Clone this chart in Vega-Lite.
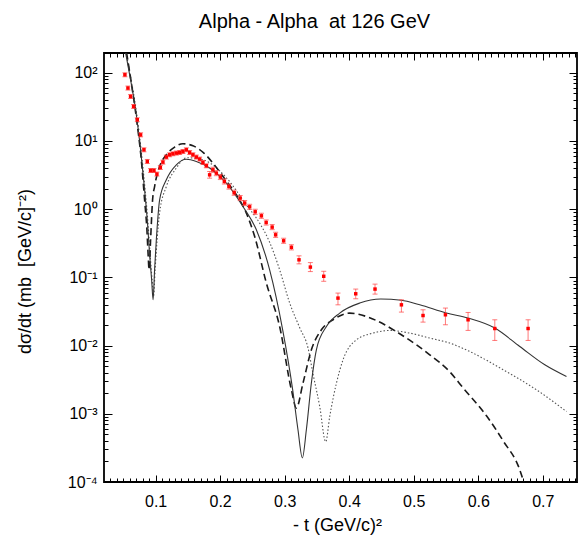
{
"$schema": "https://vega.github.io/schema/vega-lite/v6.json",
"width": 473, "height": 429,
"autosize": {"type": "none"},
"padding": {"left": 104, "top": 53, "right": 4, "bottom": 67},
"background": "white",
"title": {"text": "Alpha - Alpha\u00a0 at 126 GeV", "fontSize": 20, "font": "Liberation Sans", "fontWeight": "normal", "color": "black", "anchor": "middle", "frame": "group", "dx": -26, "offset": 5, "baseline": "alphabetic"},
"config": {
  "view": {"stroke": "black", "strokeWidth": 1.8},
  "axis": {"grid": false, "domain": false, "tickColor": "black", "tickWidth": 1, "labelColor": "black", "titleColor": "black", "labelFont": "Liberation Sans", "titleFont": "Liberation Sans", "titleFontWeight": "normal", "labelOverlap": false, "labelFlush": false}
},
"resolve": {"axis": {"x": "independent", "y": "independent"}},
"datasets": {
  "pts": [
    {"t": 0.0524, "v": 93.5, "lo": 87.4, "hi": 100},
    {"t": 0.0571, "v": 59.7, "lo": 55.8, "hi": 63.9},
    {"t": 0.0612, "v": 44.9, "lo": 42.0, "hi": 48.0},
    {"t": 0.0659, "v": 32.1, "lo": 30.0, "hi": 34.3},
    {"t": 0.0716, "v": 20.5, "lo": 19.2, "hi": 21.9},
    {"t": 0.0767, "v": 12.3, "lo": 11.5, "hi": 13.2},
    {"t": 0.0819, "v": 7.43, "lo": 6.94, "hi": 7.95},
    {"t": 0.0871, "v": 5.01, "lo": 4.68, "hi": 5.36},
    {"t": 0.0922, "v": 3.69, "lo": 3.45, "hi": 3.95},
    {"t": 0.0974, "v": 3.69, "lo": 3.45, "hi": 3.95},
    {"t": 0.1020, "v": 3.27, "lo": 3.06, "hi": 3.50},
    {"t": 0.1073, "v": 4.09, "lo": 3.82, "hi": 4.38},
    {"t": 0.1113, "v": 4.90, "lo": 4.58, "hi": 5.24},
    {"t": 0.1166, "v": 5.81, "lo": 5.43, "hi": 6.22},
    {"t": 0.1217, "v": 6.28, "lo": 5.87, "hi": 6.72},
    {"t": 0.1268, "v": 6.49, "lo": 6.07, "hi": 6.94},
    {"t": 0.1321, "v": 6.65, "lo": 6.21, "hi": 7.12},
    {"t": 0.1372, "v": 6.78, "lo": 6.34, "hi": 7.25},
    {"t": 0.1423, "v": 7.01, "lo": 6.55, "hi": 7.50},
    {"t": 0.1476, "v": 7.43, "lo": 6.94, "hi": 7.95},
    {"t": 0.1527, "v": 6.78, "lo": 6.34, "hi": 7.25},
    {"t": 0.1578, "v": 6.28, "lo": 5.87, "hi": 6.72},
    {"t": 0.1631, "v": 5.81, "lo": 5.43, "hi": 6.22},
    {"t": 0.1682, "v": 5.43, "lo": 5.07, "hi": 5.81},
    {"t": 0.1733, "v": 4.84, "lo": 4.52, "hi": 5.18},
    {"t": 0.1786, "v": 4.33, "lo": 4.05, "hi": 4.63},
    {"t": 0.1837, "v": 3.19, "lo": 2.85, "hi": 3.57},
    {"t": 0.1888, "v": 3.78, "lo": 3.47, "hi": 4.12},
    {"t": 0.1941, "v": 3.38, "lo": 3.10, "hi": 3.68},
    {"t": 0.2003, "v": 2.96, "lo": 2.72, "hi": 3.23},
    {"t": 0.2065, "v": 2.55, "lo": 2.34, "hi": 2.78},
    {"t": 0.2136, "v": 2.15, "lo": 1.97, "hi": 2.34},
    {"t": 0.2217, "v": 1.74, "lo": 1.60, "hi": 1.90},
    {"t": 0.2310, "v": 1.455, "lo": 1.335, "hi": 1.586},
    {"t": 0.2380, "v": 1.23, "lo": 1.13, "hi": 1.34},
    {"t": 0.2457, "v": 1.084, "lo": 0.994, "hi": 1.18},
    {"t": 0.2543, "v": 0.916, "lo": 0.840, "hi": 0.998},
    {"t": 0.2639, "v": 0.800, "lo": 0.734, "hi": 0.872},
    {"t": 0.2713, "v": 0.638, "lo": 0.585, "hi": 0.695},
    {"t": 0.2806, "v": 0.546, "lo": 0.501, "hi": 0.595},
    {"t": 0.2860, "v": 0.421, "lo": 0.386, "hi": 0.459},
    {"t": 0.2984, "v": 0.344, "lo": 0.316, "hi": 0.375},
    {"t": 0.3104, "v": 0.276, "lo": 0.253, "hi": 0.301},
    {"t": 0.3222, "v": 0.181, "lo": 0.158, "hi": 0.207},
    {"t": 0.3398, "v": 0.1416, "lo": 0.1217, "hi": 0.1648},
    {"t": 0.3605, "v": 0.1038, "lo": 0.0877, "hi": 0.1229},
    {"t": 0.3826, "v": 0.0497, "lo": 0.0396, "hi": 0.0589},
    {"t": 0.4101, "v": 0.0575, "lo": 0.0486, "hi": 0.0674},
    {"t": 0.4400, "v": 0.0674, "lo": 0.0569, "hi": 0.0797},
    {"t": 0.4809, "v": 0.0396, "lo": 0.0310, "hi": 0.0469},
    {"t": 0.5144, "v": 0.0276, "lo": 0.0221, "hi": 0.0335},
    {"t": 0.5491, "v": 0.0283, "lo": 0.0202, "hi": 0.0355},
    {"t": 0.5842, "v": 0.0239, "lo": 0.0167, "hi": 0.0306},
    {"t": 0.6256, "v": 0.0178, "lo": 0.0119, "hi": 0.0239},
    {"t": 0.6772, "v": 0.0178, "lo": 0.0119, "hi": 0.0239}
  ],
  "curves": [
    {"m": "solid", "t": 0.0535, "v": 196},
    {"m": "solid", "t": 0.0612, "v": 78.9},
    {"m": "solid", "t": 0.0690, "v": 28.7},
    {"m": "solid", "t": 0.0767, "v": 7.43},
    {"m": "solid", "t": 0.0829, "v": 1.925},
    {"m": "solid", "t": 0.0876, "v": 0.590},
    {"m": "solid", "t": 0.0907, "v": 0.2145},
    {"m": "solid", "t": 0.0938, "v": 0.0922},
    {"m": "solid", "t": 0.0961, "v": 0.0469},
    {"m": "solid", "t": 0.0984, "v": 0.1292},
    {"m": "solid", "t": 0.1011, "v": 0.356},
    {"m": "solid", "t": 0.1062, "v": 1.373},
    {"m": "solid", "t": 0.1166, "v": 2.70},
    {"m": "solid", "t": 0.1321, "v": 4.48},
    {"m": "solid", "t": 0.1476, "v": 5.39},
    {"m": "solid", "t": 0.1631, "v": 5.01},
    {"m": "solid", "t": 0.1837, "v": 4.01},
    {"m": "solid", "t": 0.2096, "v": 2.41},
    {"m": "solid", "t": 0.2353, "v": 1.095},
    {"m": "solid", "t": 0.2561, "v": 0.499},
    {"m": "solid", "t": 0.2767, "v": 0.1292},
    {"m": "solid", "t": 0.2969, "v": 0.01705},
    {"m": "solid", "t": 0.3124, "v": 0.002248},
    {"m": "solid", "t": 0.3206, "v": 0.000583},
    {"m": "solid", "t": 0.3274, "v": 0.000226},
    {"m": "solid", "t": 0.3336, "v": 0.000583},
    {"m": "solid", "t": 0.3414, "v": 0.002847},
    {"m": "solid", "t": 0.3491, "v": 0.00868},
    {"m": "solid", "t": 0.3647, "v": 0.01906},
    {"m": "solid", "t": 0.3853, "v": 0.02996},
    {"m": "solid", "t": 0.4163, "v": 0.0420},
    {"m": "solid", "t": 0.4488, "v": 0.0481},
    {"m": "solid", "t": 0.4809, "v": 0.0462},
    {"m": "solid", "t": 0.5093, "v": 0.0396},
    {"m": "solid", "t": 0.5507, "v": 0.02996},
    {"m": "solid", "t": 0.5842, "v": 0.0253},
    {"m": "solid", "t": 0.6256, "v": 0.01806},
    {"m": "solid", "t": 0.6643, "v": 0.00970},
    {"m": "solid", "t": 0.7031, "v": 0.00523},
    {"m": "solid", "t": 0.7367, "v": 0.00352},
    {"m": "dashed", "t": 0.0550, "v": 196},
    {"m": "dashed", "t": 0.0628, "v": 66.7},
    {"m": "dashed", "t": 0.0705, "v": 20.5},
    {"m": "dashed", "t": 0.0778, "v": 5.30},
    {"m": "dashed", "t": 0.0829, "v": 1.373},
    {"m": "dashed", "t": 0.0865, "v": 0.499},
    {"m": "dashed", "t": 0.0884, "v": 0.2145},
    {"m": "dashed", "t": 0.0899, "v": 0.1292},
    {"m": "dashed", "t": 0.0922, "v": 0.356},
    {"m": "dashed", "t": 0.0953, "v": 1.373},
    {"m": "dashed", "t": 0.0984, "v": 2.15},
    {"m": "dashed", "t": 0.1062, "v": 4.23},
    {"m": "dashed", "t": 0.1166, "v": 6.28},
    {"m": "dashed", "t": 0.1295, "v": 8.14},
    {"m": "dashed", "t": 0.1423, "v": 9.10},
    {"m": "dashed", "t": 0.1578, "v": 8.50},
    {"m": "dashed", "t": 0.1744, "v": 6.71},
    {"m": "dashed", "t": 0.1888, "v": 4.74},
    {"m": "dashed", "t": 0.2070, "v": 2.79},
    {"m": "dashed", "t": 0.2251, "v": 1.626},
    {"m": "dashed", "t": 0.2406, "v": 0.877},
    {"m": "dashed", "t": 0.2535, "v": 0.398},
    {"m": "dashed", "t": 0.2716, "v": 0.0825},
    {"m": "dashed", "t": 0.2922, "v": 0.01906},
    {"m": "dashed", "t": 0.3104, "v": 0.002248},
    {"m": "dashed", "t": 0.3181, "v": 0.001213},
    {"m": "dashed", "t": 0.3284, "v": 0.002818},
    {"m": "dashed", "t": 0.3414, "v": 0.00868},
    {"m": "dashed", "t": 0.3569, "v": 0.01705},
    {"m": "dashed", "t": 0.3749, "v": 0.0239},
    {"m": "dashed", "t": 0.4008, "v": 0.02996},
    {"m": "dashed", "t": 0.4267, "v": 0.0267},
    {"m": "dashed", "t": 0.4550, "v": 0.0202},
    {"m": "dashed", "t": 0.4783, "v": 0.01489},
    {"m": "dashed", "t": 0.5042, "v": 0.01027},
    {"m": "dashed", "t": 0.5248, "v": 0.00733},
    {"m": "dashed", "t": 0.5558, "v": 0.00413},
    {"m": "dashed", "t": 0.5764, "v": 0.002405},
    {"m": "dashed", "t": 0.6127, "v": 0.000935},
    {"m": "dashed", "t": 0.6385, "v": 0.000402},
    {"m": "dashed", "t": 0.6643, "v": 0.000151},
    {"m": "dashed", "t": 0.6705, "v": 0.0001},
    {"m": "dotted", "t": 0.0543, "v": 196},
    {"m": "dotted", "t": 0.0620, "v": 78.9},
    {"m": "dotted", "t": 0.0698, "v": 28.7},
    {"m": "dotted", "t": 0.0775, "v": 7.43},
    {"m": "dotted", "t": 0.0837, "v": 1.925},
    {"m": "dotted", "t": 0.0884, "v": 0.590},
    {"m": "dotted", "t": 0.0915, "v": 0.2145},
    {"m": "dotted", "t": 0.0946, "v": 0.0922},
    {"m": "dotted", "t": 0.0969, "v": 0.0537},
    {"m": "dotted", "t": 0.0992, "v": 0.1292},
    {"m": "dotted", "t": 0.1023, "v": 0.356},
    {"m": "dotted", "t": 0.1062, "v": 0.886},
    {"m": "dotted", "t": 0.1166, "v": 2.15},
    {"m": "dotted", "t": 0.1321, "v": 4.01},
    {"m": "dotted", "t": 0.1476, "v": 5.67},
    {"m": "dotted", "t": 0.1631, "v": 5.58},
    {"m": "dotted", "t": 0.1837, "v": 4.79},
    {"m": "dotted", "t": 0.2096, "v": 2.89},
    {"m": "dotted", "t": 0.2406, "v": 1.160},
    {"m": "dotted", "t": 0.2612, "v": 0.625},
    {"m": "dotted", "t": 0.2767, "v": 0.327},
    {"m": "dotted", "t": 0.2922, "v": 0.1292},
    {"m": "dotted", "t": 0.3078, "v": 0.0420},
    {"m": "dotted", "t": 0.3233, "v": 0.01824},
    {"m": "dotted", "t": 0.3361, "v": 0.00928},
    {"m": "dotted", "t": 0.3439, "v": 0.00386},
    {"m": "dotted", "t": 0.3543, "v": 0.00128},
    {"m": "dotted", "t": 0.3636, "v": 0.000389},
    {"m": "dotted", "t": 0.3698, "v": 0.000913},
    {"m": "dotted", "t": 0.3802, "v": 0.002818},
    {"m": "dotted", "t": 0.3904, "v": 0.00619},
    {"m": "dotted", "t": 0.4112, "v": 0.01216},
    {"m": "dotted", "t": 0.4369, "v": 0.01525},
    {"m": "dotted", "t": 0.4628, "v": 0.01665},
    {"m": "dotted", "t": 0.4938, "v": 0.01525},
    {"m": "dotted", "t": 0.5248, "v": 0.01288},
    {"m": "dotted", "t": 0.5558, "v": 0.01088},
    {"m": "dotted", "t": 0.5868, "v": 0.00819},
    {"m": "dotted", "t": 0.6385, "v": 0.00442},
    {"m": "dotted", "t": 0.6902, "v": 0.002248},
    {"m": "dotted", "t": 0.7367, "v": 0.00108}
  ]
},
"layer": [
  {
    "data": {"name": "curves"},
    "transform": [{"filter": "datum.m === 'dotted'"}],
    "mark": {"type": "line", "color": "#555555", "strokeWidth": 1.1, "strokeDash": [1.5, 2], "clip": true, "interpolate": "monotone"},
    "encoding": {
      "x": {"field": "t", "type": "quantitative", "scale": {"domain": [0.02, 0.753], "nice": false, "zero": false}, "axis": null},
      "y": {"field": "v", "type": "quantitative", "scale": {"type": "log", "domain": [0.0001, 195], "nice": false}, "axis": null}
    }
  },
  {
    "data": {"name": "curves"},
    "transform": [{"filter": "datum.m === 'dashed'"}],
    "mark": {"type": "line", "color": "#1a1a1a", "strokeWidth": 1.6, "strokeDash": [7, 4], "clip": true, "interpolate": "monotone"},
    "encoding": {
      "x": {"field": "t", "type": "quantitative", "scale": {"domain": [0.02, 0.753], "nice": false, "zero": false}, "axis": null},
      "y": {"field": "v", "type": "quantitative", "scale": {"type": "log", "domain": [0.0001, 195], "nice": false}, "axis": null}
    }
  },
  {
    "data": {"name": "curves"},
    "transform": [{"filter": "datum.m === 'solid'"}],
    "mark": {"type": "line", "color": "#333333", "strokeWidth": 1.1, "clip": true, "interpolate": "monotone"},
    "encoding": {
      "x": {"field": "t", "type": "quantitative", "scale": {"domain": [0.02, 0.753], "nice": false, "zero": false}, "axis": null},
      "y": {"field": "v", "type": "quantitative", "scale": {"type": "log", "domain": [0.0001, 195], "nice": false}, "axis": null}
    }
  },
  {
    "data": {"name": "pts"},
    "mark": {"type": "errorbar", "ticks": true, "color": "#ff4040", "opacity": 0.7},
    "encoding": {
      "x": {"field": "t", "type": "quantitative", "scale": {"domain": [0.02, 0.753], "nice": false, "zero": false}, "axis": null},
      "y": {"field": "lo", "type": "quantitative", "scale": {"type": "log", "domain": [0.0001, 195], "nice": false}, "axis": null},
      "y2": {"field": "hi"}
    }
  },
  {
    "data": {"name": "pts"},
    "mark": {"type": "square", "size": 12, "color": "#ff0000", "opacity": 1},
    "encoding": {
      "x": {"field": "t", "type": "quantitative", "scale": {"domain": [0.02, 0.753], "nice": false, "zero": false},
        "axis": {"orient": "bottom", "values": [0.1, 0.2, 0.3, 0.4, 0.5, 0.6, 0.7], "ticks": false, "labelFontSize": 16, "labelPadding": 11, "format": ".1f",
          "title": "- t (GeV/c)²", "titleFontSize": 18, "titleX": 233, "titleY": 48, "titleBaseline": "alphabetic", "titleAlign": "center", "titleAnchor": null}},
      "y": {"field": "v", "type": "quantitative", "scale": {"type": "log", "domain": [0.0001, 195], "nice": false},
        "axis": {"orient": "left", "values": [0.0001, 0.001, 0.01, 0.1, 1, 10, 100], "ticks": false, "labelFontSize": 16, "labelPadding": 7, "labelBaseline": "middle",
          "labelExpr": "datum.value >= 50 ? '10²' : datum.value >= 5 ? '10¹' : datum.value >= 0.5 ? '10⁰' : datum.value >= 0.05 ? '10⁻¹' : datum.value >= 0.005 ? '10⁻²' : datum.value >= 0.0005 ? '10⁻³' : '10⁻⁴'",
          "title": "dσ/dt (mb\u00a0 [GeV/c]⁻²)", "titleFontSize": 18, "titleAngle": 270, "titleX": -79, "titleY": 218, "titleAlign": "center", "titleBaseline": "middle"}}
    }
  },
  {
    "data": {"name": "pts"},
    "mark": {"type": "point", "opacity": 0},
    "encoding": {
      "x": {"field": "t", "type": "quantitative", "scale": {"domain": [0.02, 0.753], "nice": false, "zero": false},
        "axis": {"orient": "bottom", "values": [0.1, 0.2, 0.3, 0.4, 0.5, 0.6, 0.7], "labels": false, "title": null, "tickSize": -7}},
      "y": {"field": "v", "type": "quantitative", "scale": {"type": "log", "domain": [0.0001, 195], "nice": false},
        "axis": {"orient": "left", "values": [0.0001, 0.001, 0.01, 0.1, 1, 10, 100], "labels": false, "title": null, "tickSize": -8}}
    }
  },
  {
    "data": {"name": "pts"},
    "mark": {"type": "point", "opacity": 0},
    "encoding": {
      "x": {"field": "t", "type": "quantitative", "scale": {"domain": [0.02, 0.753], "nice": false, "zero": false},
        "axis": {"orient": "bottom", "values": [0.03,0.04,0.05,0.06,0.07,0.08,0.09,0.11,0.12,0.13,0.14,0.15,0.16,0.17,0.18,0.19,0.21,0.22,0.23,0.24,0.25,0.26,0.27,0.28,0.29,0.31,0.32,0.33,0.34,0.35,0.36,0.37,0.38,0.39,0.41,0.42,0.43,0.44,0.45,0.46,0.47,0.48,0.49,0.51,0.52,0.53,0.54,0.55,0.56,0.57,0.58,0.59,0.61,0.62,0.63,0.64,0.65,0.66,0.67,0.68,0.69,0.71,0.72,0.73,0.74,0.75], "labels": false, "title": null, "tickSize": -4}},
      "y": {"field": "v", "type": "quantitative", "scale": {"type": "log", "domain": [0.0001, 195], "nice": false},
        "axis": {"orient": "left", "values": [0.0002,0.0003,0.0004,0.0005,0.0006,0.0007,0.0008,0.0009,0.002,0.003,0.004,0.005,0.006,0.007,0.008,0.009,0.02,0.03,0.04,0.05,0.06,0.07,0.08,0.09,0.2,0.3,0.4,0.5,0.6,0.7,0.8,0.9,2,3,4,5,6,7,8,9,20,30,40,50,60,70,80,90], "labels": false, "title": null, "tickSize": -4}}
    }
  },
  {
    "data": {"name": "pts"},
    "mark": {"type": "point", "opacity": 0},
    "encoding": {
      "x": {"field": "t", "type": "quantitative", "scale": {"domain": [0.02, 0.753], "nice": false, "zero": false},
        "axis": {"orient": "top", "values": [0.1, 0.2, 0.3, 0.4, 0.5, 0.6, 0.7], "labels": false, "title": null, "tickSize": -7}},
      "y": {"field": "v", "type": "quantitative", "scale": {"type": "log", "domain": [0.0001, 195], "nice": false},
        "axis": {"orient": "right", "values": [0.0001, 0.001, 0.01, 0.1, 1, 10, 100], "labels": false, "title": null, "tickSize": -8}}
    }
  },
  {
    "data": {"name": "pts"},
    "mark": {"type": "point", "opacity": 0},
    "encoding": {
      "x": {"field": "t", "type": "quantitative", "scale": {"domain": [0.02, 0.753], "nice": false, "zero": false},
        "axis": {"orient": "top", "values": [0.03,0.04,0.05,0.06,0.07,0.08,0.09,0.11,0.12,0.13,0.14,0.15,0.16,0.17,0.18,0.19,0.21,0.22,0.23,0.24,0.25,0.26,0.27,0.28,0.29,0.31,0.32,0.33,0.34,0.35,0.36,0.37,0.38,0.39,0.41,0.42,0.43,0.44,0.45,0.46,0.47,0.48,0.49,0.51,0.52,0.53,0.54,0.55,0.56,0.57,0.58,0.59,0.61,0.62,0.63,0.64,0.65,0.66,0.67,0.68,0.69,0.71,0.72,0.73,0.74,0.75], "labels": false, "title": null, "tickSize": -4}},
      "y": {"field": "v", "type": "quantitative", "scale": {"type": "log", "domain": [0.0001, 195], "nice": false},
        "axis": {"orient": "right", "values": [0.0002,0.0003,0.0004,0.0005,0.0006,0.0007,0.0008,0.0009,0.002,0.003,0.004,0.005,0.006,0.007,0.008,0.009,0.02,0.03,0.04,0.05,0.06,0.07,0.08,0.09,0.2,0.3,0.4,0.5,0.6,0.7,0.8,0.9,2,3,4,5,6,7,8,9,20,30,40,50,60,70,80,90], "labels": false, "title": null, "tickSize": -4}}
    }
  }
]
}
